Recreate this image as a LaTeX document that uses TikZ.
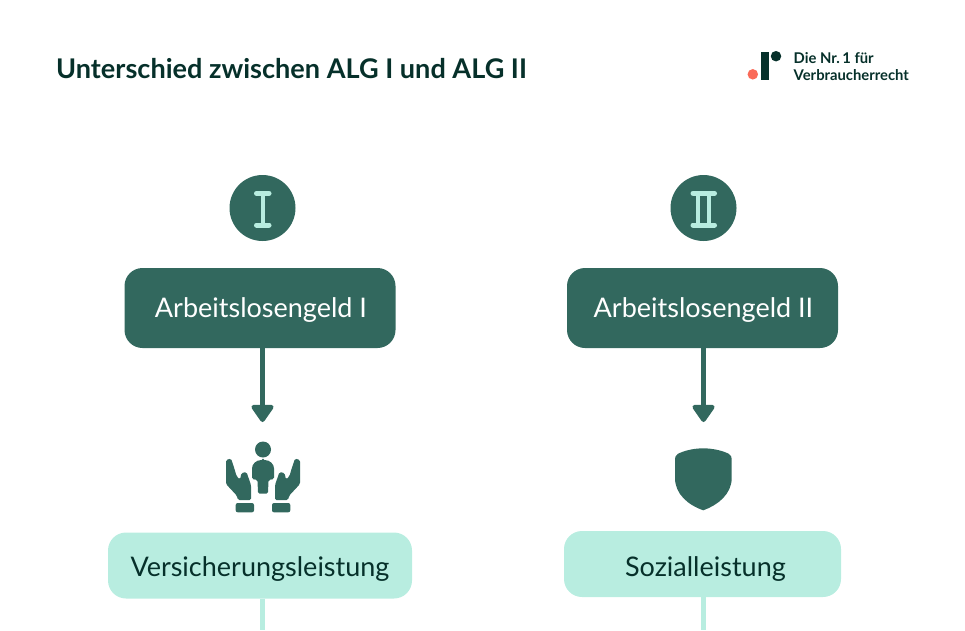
\documentclass[tikz,border=0pt]{standalone}
\usepackage{fontspec}
\usepackage{xcolor}
\usepackage{tikz}
\usetikzlibrary{arrows.meta,positioning}
\setmainfont{Lato}
\definecolor{benefitgreen}{RGB}{50,104,94}
\definecolor{benefitmint}{RGB}{184,237,224}
\definecolor{titledark}{RGB}{6,48,42}
\definecolor{logored}{RGB}{250,106,88}

\begin{document}
\begin{tikzpicture}[x=1pt,y=-1pt,>=Latex,
 headbox/.style={rounded corners=18pt,fill=benefitgreen,text=white,minimum width=271pt,minimum height=80pt,text height=22pt,text depth=4pt,font=\fontsize{27}{30}\selectfont},
 kindbox/.style={rounded corners=18pt,fill=benefitmint,text=titledark,minimum height=66pt,text height=24pt,text depth=2pt,font=\fontsize{27}{30}\selectfont},
 badge/.style={circle,fill=benefitgreen,minimum size=66pt,inner sep=0pt},
 logotext/.style={anchor=base west,text=titledark,inner sep=0pt,font=\bfseries\fontsize{14.8}{16}\selectfont},
 down/.style={line width=4.5pt,draw=benefitgreen,arrows={-{Triangle[length=19pt,width=25pt,round]}},shorten >=1pt},
 tail/.style={line width=4.5pt,draw=benefitmint},
 serif/.style={line width=5pt,draw=benefitmint,line cap=round},
 stem/.style={line width=4pt,draw=benefitmint}]
\useasboundingbox (0,0) rectangle (965,630);
\node[anchor=base west,inner sep=0pt,text=titledark,font=\bfseries\fontsize{27.1}{30}\selectfont] (title) at (56,78) {Unterschied zwischen ALG I und ALG II};
% logo
\fill[titledark] (760.7,51.7) rectangle (769.3,80);
\node[circle,fill=titledark,minimum size=10.5pt,inner sep=0pt] (logodot) at (776,56.2) {};
\node[circle,fill=logored,minimum size=10.5pt,inner sep=0pt] (logored) at (752.8,74.3) {};
\node[logotext] (logoa) at (793.5,63) {Die Nr.\,1 für};
\node[logotext] (logob) at (793.5,80) {Verbraucherrecht};
% left column
\node[badge] (one) at (262.5,208) {};
\draw[serif] (256.5,193.2)--(269,193.2) (256.5,225)--(269,225);
\draw[stem] (262.5,193.2)--(262.5,225);
\node[headbox] (algone) at (260,308) {\hspace*{2pt}Arbeitslosengeld I};
\coordinate (tipone) at (262.5,423);
\draw[down] (algone.south -| tipone)--(tipone);
\fill[benefitgreen] (263,449.5) circle (8);
\fill[benefitgreen,rounded corners=1.5pt] (263,460) .. controls (256,460) and (252,464) .. (252,470) -- (252,479) -- (257.5,480) -- (258,493.5) -- (268,493.5) -- (268.5,480) -- (274,479) -- (274,470) .. controls (274,464) and (270,460) .. (263,460) -- cycle;
\foreach \s in {1,-1}{
 \begin{scope}[xshift=263pt,xscale=\s]
 \fill[benefitgreen,rounded corners=1.5pt] (-37,460) -- (-32,458.5) -- (-28.5,469) -- (-26.5,476) -- (-23,479.5) -- (-21.5,473) -- (-16.5,472) -- (-12,485) -- (-12,500) -- (-25,500) -- (-26.3,495.5) -- (-37,484) -- cycle;
 \fill[benefitgreen,rounded corners=2pt] (-27.3,503) rectangle (-9,512.3);
 \end{scope}}
\node[kindbox,minimum width=304pt] (insured) at (260,565.5) {Versicherungsleistung};
\coordinate (tailone) at (262.5,630);
\draw[tail] (insured.south -| tailone)--(tailone);
% right column
\node[badge] (two) at (703.5,208) {};
\draw[serif] (693,193.2)--(714.5,193.2) (693,225)--(714.5,225);
\draw[stem] (698,193.2)--(698,225) (708.5,193.2)--(708.5,225);
\node[headbox] (algtwo) at (702.5,308) {\hspace*{2pt}Arbeitslosengeld II};
\coordinate (tiptwo) at (703.5,423);
\draw[down] (algtwo.south -| tiptwo)--(tiptwo);
\fill[benefitgreen] (703.3,448.3) .. controls (713,448.3) and (724,451) .. (729,454) .. controls (731,455.5) and (731.7,457) .. (731.7,459) -- (731.7,478) .. controls (731.7,494) and (718,505) .. (703.3,510.3) .. controls (688,505) and (675,494) .. (675,478) -- (675,459) .. controls (675,457) and (675.7,455.5) .. (677.7,454) .. controls (683,451) and (693,448.3) .. (703.3,448.3) -- cycle;
\node[kindbox,minimum width=277pt,text height=25pt,text depth=1pt] (social) at (702.5,564) {\hspace*{6pt}Sozialleistung};
\coordinate (tailtwo) at (703.5,630);
\draw[tail] (social.south -| tailtwo)--(tailtwo);
\end{tikzpicture}
\end{document}
